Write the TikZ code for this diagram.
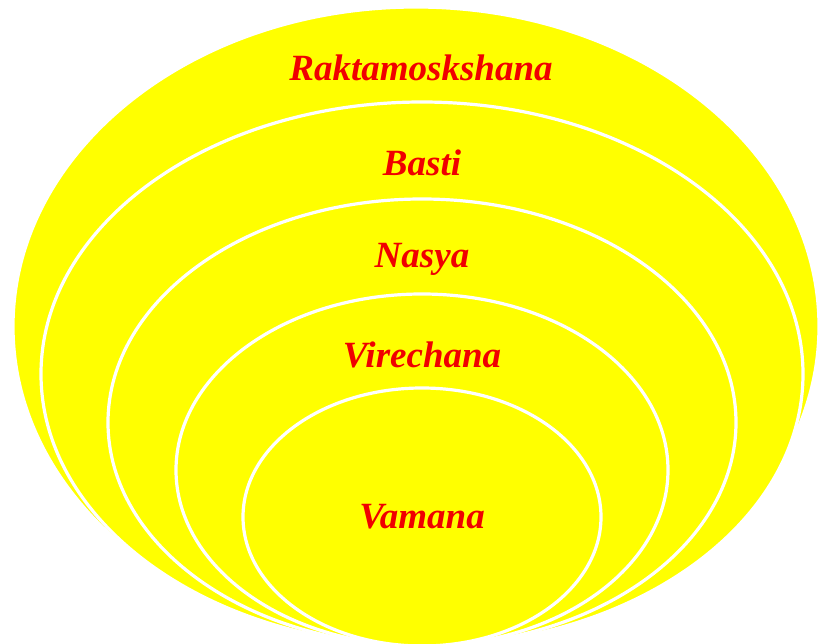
\documentclass[tikz,border=0pt]{standalone}
\usepackage{fontspec}
\setmainfont{Liberation Serif}
\usepackage{tikz}
\usetikzlibrary{shapes.geometric}
\definecolor{ringyellow}{RGB}{255,255,0}
\definecolor{lblred}{RGB}{240,0,0}

\begin{document}
\begin{tikzpicture}[
    x=1pt, y=-1pt,
    ring/.style={ellipse, draw=white, fill=ringyellow, line width=3.2pt, inner sep=0pt},
    lbl/.style={font=\fontsize{37}{40}\selectfont\bfseries\itshape, text=lblred}
]
  \fill[white] (0,0) rectangle (820,644);
  \clip (0,0) rectangle (820,644);
  % rings, outermost first
  \foreach \n/\cx/\cy/\rx/\ry in {raktam/416/326.5/403/319.5, basti/422/374/381/272,
                                  nasya/422/422.5/314/223.5, virech/422/470/246/176,
                                  vamana/422/517/179/129} {
    \node[ring, minimum width=2*\rx, minimum height=2*\ry] (\n) at (\cx,\cy) {};
  }
  \node[lbl] (traktam) at (421,68)  {Raktamoskshana};
  \node[lbl] (tbasti)  at (422,163) {Basti};
  \node[lbl] (tnasya)  at (422,259) {Nasya};
  \node[lbl] (tvirech) at (422,355) {Virechana};
  \node[lbl] (tvamana) at (422,517) {Vamana};
\end{tikzpicture}
\end{document}
